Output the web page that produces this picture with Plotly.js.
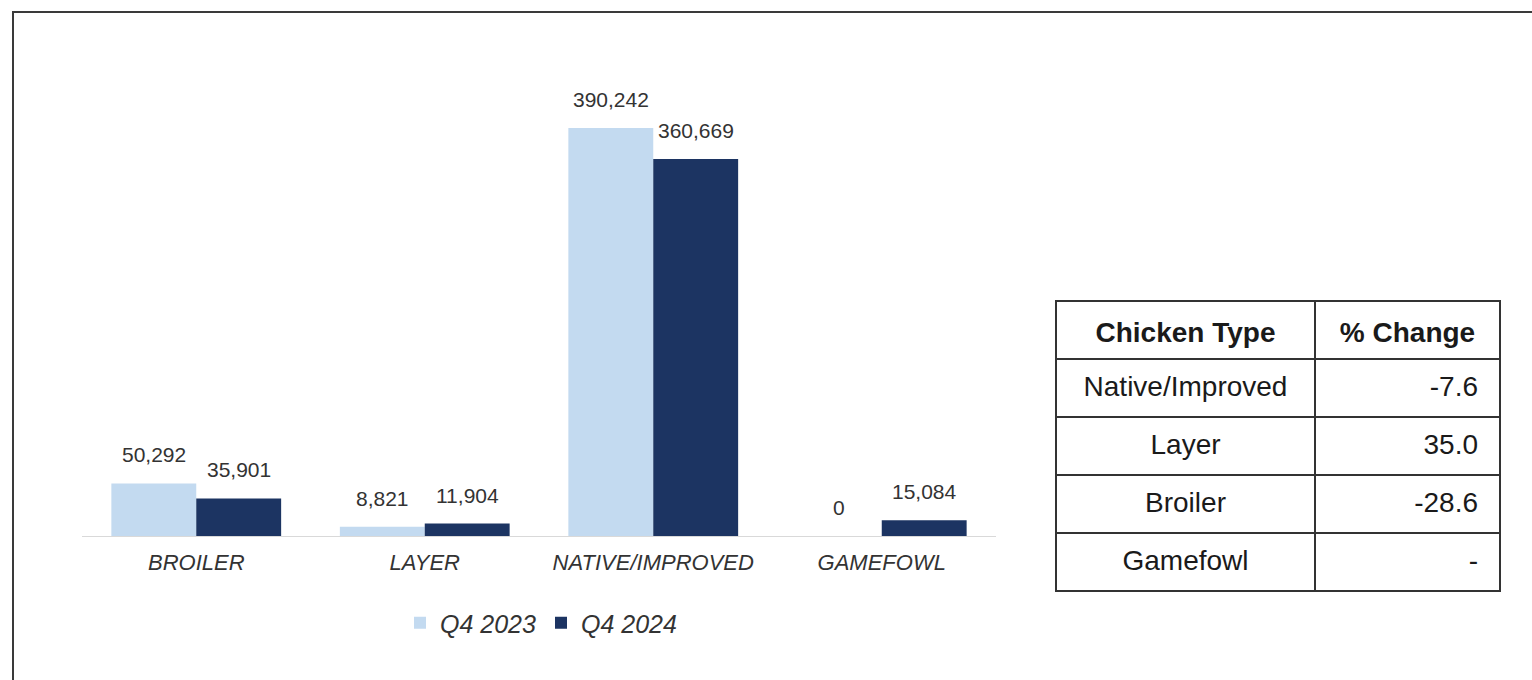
<!DOCTYPE html>
<html>
<head>
<meta charset="utf-8">
<script src="https://cdn.plot.ly/plotly-3.0.1.min.js"></script>
<style>html,body{margin:0;padding:0;background:#fff;}#chart{width:1532px;height:680px;}</style>
</head>
<body>
<div id="chart"></div>
<script>
// ---- data ----
const categories = ["BROILER", "LAYER", "NATIVE/IMPROVED", "GAMEFOWL"];
const seriesNames = ["Q4 2023", "Q4 2024"];
const q4_2023 = [50292, 8821, 390242, 0];
const q4_2024 = [35901, 11904, 360669, 15084];
const tableHeader = ["Chicken Type", "% Change"];
const tableTypes = ["Native/Improved", "Layer", "Broiler", "Gamefowl"];
const tableChange = ["-7.6", "35.0", "-28.6", "-"];

// ---- style ----
const FONT = "Liberation Sans, Arial, sans-serif";
const colors = ["#c3daf0", "#1c3462"];
const BARGAP = 0.257;
const W = 1532, H = 680;
const CLEAR = "rgba(0,0,0,0)";
const TFONT = 28;
const blank = arr => arr.map(() => "");

const tableX = [1056 / W, 1500 / W];
const tableColW = [259, 185];

const traces = [
  {type: "bar", name: seriesNames[0], x: categories, y: q4_2023,
   marker: {color: colors[0]}, hoverinfo: "skip"},
  {type: "bar", name: seriesNames[1], x: categories, y: q4_2024,
   marker: {color: colors[1]}, hoverinfo: "skip"},
  // grid of the table (cells without text)
  {type: "table", domain: {x: tableX, y: [1 - 594 / H, 1 - 301 / H]},
   columnwidth: tableColW,
   header: {values: blank(tableHeader), height: 58,
            line: {color: "#333", width: 2}, fill: {color: "#fff"}},
   cells: {values: [blank(tableTypes), blank(tableChange)], height: 58,
           line: {color: "#333", width: 2}, fill: {color: "#fff"}}},
  // text of the table, nudged down so it sits centred in the cells
  {type: "table", domain: {x: tableX, y: [1 - 603 / H, 1 - 309 / H]},
   columnwidth: tableColW,
   header: {values: tableHeader.map(t => "<b>" + t + "</b>"),
            align: "center", height: 58,
            line: {color: CLEAR, width: 0}, fill: {color: CLEAR},
            font: {family: FONT, size: TFONT, color: "#1a1a1a"}},
   cells: {values: [tableTypes, tableChange],
           align: ["center", "right"], height: 58,
           suffix: ["", "\u2002"],
           line: {color: CLEAR, width: 0}, fill: {color: CLEAR},
           font: {family: FONT, size: TFONT, color: "#1a1a1a"}}}
];

const off = (1 - BARGAP) / 4;
const annotations = [];
[q4_2023, q4_2024].forEach((series, s) => {
  series.forEach((v, i) => {
    annotations.push({
      x: i + (s === 0 ? -off : off), y: v, xref: "x", yref: "y",
      text: v.toLocaleString("en-US"), showarrow: false,
      yanchor: "bottom", yshift: 15,
      font: {family: FONT, size: 21, color: "#333"}
    });
  });
});

const layout = {
  width: W, height: H,
  margin: {l: 0, r: 0, t: 0, b: 0},
  paper_bgcolor: "#fff", plot_bgcolor: "#fff",
  barmode: "group", bargap: BARGAP, bargroupgap: 0,
  showlegend: true,
  legend: {orientation: "h", x: 541 / W, xanchor: "center", y: 1 - 623 / H, yanchor: "middle",
           font: {family: FONT, size: 25, color: "#333", style: "italic"},
           traceorder: "normal"},
  xaxis: {domain: [82 / W, 996 / W], type: "category", range: [-0.5, 3.5],
          showline: true, linecolor: "#d9d9d9", linewidth: 1,
          showgrid: false, zeroline: false,
          ticks: "outside", ticklen: 7, tickcolor: CLEAR,
          tickfont: {family: FONT, size: 22, color: "#333", style: "italic"}},
  yaxis: {domain: [1 - 536 / H, 1 - 97 / H], range: [0, 420000],
          visible: false, showgrid: false, zeroline: false},
  annotations: annotations,
  shapes: [{type: "rect", xref: "paper", yref: "paper",
            x0: 13 / W, x1: 1.05, y0: -0.05, y1: 1 - 12 / H,
            line: {color: "#3a3a3a", width: 2}}],
  font: {family: FONT}
};

Plotly.newPlot("chart", traces, layout, {staticPlot: true, displayModeBar: false});
</script>
</body>
</html>
